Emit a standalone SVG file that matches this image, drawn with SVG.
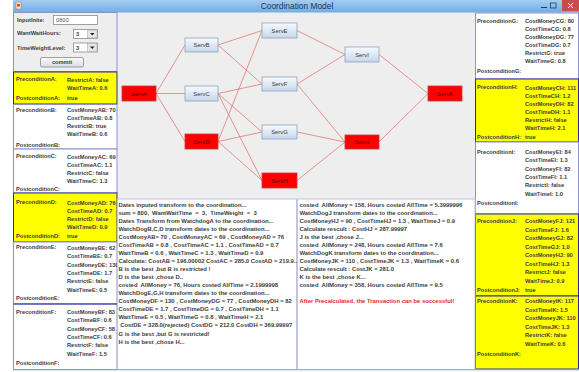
<svg xmlns="http://www.w3.org/2000/svg" width="579" height="372" viewBox="0 0 579 372">
<defs>
<linearGradient id="tb" x1="0" y1="0" x2="0" y2="1"><stop offset="0" stop-color="#a6cdf1"/><stop offset="1" stop-color="#6eaee6"/></linearGradient>
<linearGradient id="nb" x1="0" y1="0" x2="0" y2="1"><stop offset="0" stop-color="#f7fafd"/><stop offset="1" stop-color="#c6d7ea"/></linearGradient>
<linearGradient id="btn" x1="0" y1="0" x2="0" y2="1"><stop offset="0" stop-color="#fbfbfb"/><stop offset="1" stop-color="#d8dde3"/></linearGradient>
<style>
text{font-family:"Liberation Sans",Arial,sans-serif}
.l{font-size:5.7px;font-weight:bold;fill:#3c3c3c}
.t{font-size:5.9px;font-weight:bold;fill:#3c3c3c;white-space:pre}
.r{fill:#e42a2a}
.pw{fill:#ffffff;stroke:#8e8ed4;stroke-width:1}
.py{fill:#ffff00;stroke:#2a2aa8;stroke-width:1}
.nb rect{fill:url(#nb);stroke:#8ea3bb;stroke-width:0.8}
.nr rect{fill:#ff0000;stroke:#c83a3a;stroke-width:0.8}
.nb text{font-size:5.9px;fill:#3a3a3a;text-anchor:middle}
.nr text{font-size:5.9px;fill:#5a0000;text-anchor:middle}
#edges line{stroke:#e06868;stroke-width:0.7}
.box{fill:#ffffff;stroke:#8a8a8a;stroke-width:0.8}
</style>
</defs>
<rect x="0" y="0" width="579" height="372" fill="#ffffff"/>
<!-- window -->
<rect x="13" y="12" width="566" height="358" fill="#eeeeee"/>
<rect x="13" y="0" width="566" height="12.5" fill="url(#tb)"/>
<rect x="16" y="2" width="5" height="7" fill="#f0e6d2" stroke="#b07040" stroke-width="0.5"/>
<rect x="17.2" y="4" width="2.6" height="2.5" fill="#d04020"/>
<text x="297" y="9.3" text-anchor="middle" style="font-size:8.4px;fill:#1f3252">Coordination Model</text>
<line x1="541" y1="7.5" x2="547" y2="7.5" stroke="#2a3a55" stroke-width="1"/>
<rect x="550.5" y="3" width="5.5" height="5" fill="none" stroke="#2a3a55" stroke-width="0.8"/>
<rect x="562" y="0" width="17" height="11" fill="#c94c4c"/>
<line x1="568" y1="3" x2="573" y2="8" stroke="#ffffff" stroke-width="1"/>
<line x1="573" y1="3" x2="568" y2="8" stroke="#ffffff" stroke-width="1"/>

<!-- left controls -->
<g id="controls">
<rect x="13.5" y="12.5" width="103.5" height="59" fill="#eeeeee" stroke="#8e8ed4"/>
<text class="l" x="17" y="21.8">InputInite:</text>
<rect class="box" x="53.5" y="15.5" width="44" height="9"/>
<text x="56" y="22.2" style="font-size:5.7px;fill:#555">0800</text>
<text class="l" x="17" y="35.3">WantWaitHours:</text>
<rect class="box" x="73.5" y="29.5" width="24" height="9"/>
<text class="l" x="76" y="36.2">3</text>
<rect x="87.5" y="30" width="9.5" height="8" fill="#e6e6e6" stroke="#a0a0a0" stroke-width="0.5"/>
<path d="M90 33 L94.5 33 L92.25 35.5 Z" fill="#222"/>
<text class="l" x="17" y="49.5">TimeWeightLevel:</text>
<rect class="box" x="73.5" y="43" width="24" height="9"/>
<text class="l" x="76" y="49.7">3</text>
<rect x="87.5" y="43.5" width="9.5" height="8" fill="#e6e6e6" stroke="#a0a0a0" stroke-width="0.5"/>
<path d="M90 46.5 L94.5 46.5 L92.25 49 Z" fill="#222"/>
<rect x="40.5" y="57.5" width="43" height="9.5" rx="1.5" fill="url(#btn)" stroke="#8a8a8a" stroke-width="0.8"/>
<text class="l" x="62" y="64.3" text-anchor="middle">commit</text>
</g>

<!-- left panels -->
<g id="panelA">
<rect class="py" x="13.5" y="72" width="103.5" height="32"/>
<text class="l" x="16" y="81">PreconditionA:</text>
<text class="l" x="67" y="82">RestrictA: false</text>
<text class="l" x="67" y="89.5">WaitTimeA: 0.6</text>
<text class="l" x="16" y="100">PostconditionA:</text>
<text class="l" x="67" y="100">true</text>
</g>
<g id="panelB">
<rect class="pw" x="13.5" y="104.5" width="103.5" height="44.5"/>
<text class="l" x="16" y="111.5">PreconditionB:</text>
<text class="l" x="67" y="112">CostMoneyAB: 70</text>
<text class="l" x="67" y="120">CostTimeAB: 0.8</text>
<text class="l" x="67" y="128">RestrictB: true</text>
<text class="l" x="67" y="136">WaitTimeB: 0.6</text>
<text class="l" x="16" y="147">PostconditionB:</text>
</g>
<g id="panelC">
<rect class="pw" x="13.5" y="149" width="103.5" height="44"/>
<text class="l" x="16" y="158">PreconditionC:</text>
<text class="l" x="67" y="158.5">CostMoneyAC: 69</text>
<text class="l" x="67" y="166.5">CostTimeAC: 1.1</text>
<text class="l" x="67" y="174.5">RestrictC: false</text>
<text class="l" x="67" y="182.5">WaitTimeC: 1.3</text>
<text class="l" x="16" y="191">PostconditionC:</text>
</g>
<g id="panelD">
<rect class="py" x="13.5" y="193" width="103.5" height="49"/>
<text class="l" x="16" y="204">PreconditionD:</text>
<text class="l" x="67" y="205">CostMoneyAD: 76</text>
<text class="l" x="67" y="213">CostTimeAD: 0.7</text>
<text class="l" x="67" y="221">RestrictD: false</text>
<text class="l" x="67" y="229">WaitTimeD: 0.9</text>
<text class="l" x="16" y="237.5">PostconditionD:</text>
<text class="l" x="67" y="237.5">true</text>
</g>
<g id="panelE">
<rect class="pw" x="13.5" y="242" width="103.5" height="62"/>
<text class="l" x="16" y="249">PreconditionE:</text>
<text class="l" x="67" y="250">CostMoneyBE: 62</text>
<text class="l" x="67" y="258.3">CostTimeBE: 0.7</text>
<text class="l" x="67" y="266.6">CostMoneyDE: 130</text>
<text class="l" x="67" y="274.9">CostTimeDE: 1.7</text>
<text class="l" x="67" y="283.2">RestrictE: false</text>
<text class="l" x="67" y="291.5">WaitTimeE: 0.5</text>
<text class="l" x="16" y="300">PostconditionE:</text>
</g>
<g id="panelF">
<rect class="pw" x="13.5" y="304" width="103.5" height="65.5"/>
<line x1="13.5" y1="304" x2="117" y2="304" stroke="#2a2aa8"/>
<text class="l" x="16" y="313.5">PreconditionF:</text>
<text class="l" x="67" y="314">CostMoneyBF: 83</text>
<text class="l" x="67" y="322.3">CostTimeBF: 0.6</text>
<text class="l" x="67" y="330.6">CostMoneyCF: 58</text>
<text class="l" x="67" y="338.9">CostTimeCF: 0.6</text>
<text class="l" x="67" y="347.2">RestrictF: false</text>
<text class="l" x="67" y="355.5">WaitTimeF: 1.5</text>
<text class="l" x="16" y="364.5">PostconditionF:</text>
</g>

<!-- right panels -->
<g id="panelG">
<rect class="pw" x="475.5" y="13" width="103" height="66"/>
<text class="l" x="477" y="23">PreconditionG:</text>
<text class="l" x="525" y="23">CostMoneyCG: 80</text>
<text class="l" x="525" y="31">CostTimeCG: 0.8</text>
<text class="l" x="525" y="39">CostMoneyDG: 77</text>
<text class="l" x="525" y="47">CostTimeDG: 0.7</text>
<text class="l" x="525" y="55">RestrictG: true</text>
<text class="l" x="525" y="63">WaitTimeG: 0.8</text>
<text class="l" x="477" y="73">PostconditionG:</text>
</g>
<g id="panelH">
<rect class="py" x="475.5" y="79" width="103" height="63"/>
<text class="l" x="477" y="89">PreconditionH:</text>
<text class="l" x="525" y="89.5">CostMoneyCH: 111</text>
<text class="l" x="525" y="97.5">CostTimeCH: 1.2</text>
<text class="l" x="525" y="105.5">CostMoneyDH: 82</text>
<text class="l" x="525" y="113.5">CostTimeDH: 1.1</text>
<text class="l" x="525" y="121.5">RestrictH: false</text>
<text class="l" x="525" y="129.5">WaitTimeH: 2.1</text>
<text class="l" x="477" y="138.5">PostconditionH:</text>
<text class="l" x="525" y="138.5">true</text>
</g>
<g id="panelI">
<rect class="pw" x="475.5" y="142" width="103" height="72"/>
<text class="l" x="477" y="153.5">PreconditionI:</text>
<text class="l" x="525" y="154">CostMoneyEI: 84</text>
<text class="l" x="525" y="162.3">CostTimeEI: 1.3</text>
<text class="l" x="525" y="170.6">CostMoneyFI: 82</text>
<text class="l" x="525" y="178.9">CostTimeFI: 1.1</text>
<text class="l" x="525" y="187.2">RestrictI: false</text>
<text class="l" x="525" y="195.5">WaitTimeI: 1.0</text>
<text class="l" x="477" y="205">PostconditionI:</text>
</g>
<g id="panelJ">
<rect class="py" x="475.5" y="214" width="103" height="82"/>
<text class="l" x="477" y="222.5">PreconditionJ:</text>
<text class="l" x="525" y="223">CostMoneyFJ: 121</text>
<text class="l" x="525" y="231.5">CostTimeFJ: 1.6</text>
<text class="l" x="525" y="240">CostMoneyGJ: 82</text>
<text class="l" x="525" y="248.5">CostTimeGJ: 1.0</text>
<text class="l" x="525" y="257">CostMoneyHJ: 90</text>
<text class="l" x="525" y="265.5">CostTimeHJ: 1.3</text>
<text class="l" x="525" y="274">RestrictJ: false</text>
<text class="l" x="525" y="282.5">WaitTimeJ: 0.9</text>
<text class="l" x="477" y="292">PostconditionJ:</text>
<text class="l" x="525" y="292">true</text>
</g>
<g id="panelK">
<rect class="py" x="475.5" y="296" width="103" height="73"/>
<text class="l" x="477" y="302.5">PreconditionK:</text>
<text class="l" x="525" y="303">CostMoneyIK: 117</text>
<text class="l" x="525" y="311.5">CostTimeIK: 1.5</text>
<text class="l" x="525" y="320">CostMoneyJK: 110</text>
<text class="l" x="525" y="328.5">CostTimeJK: 1.3</text>
<text class="l" x="525" y="337">RestrictK: false</text>
<text class="l" x="525" y="345.5">WaitTimeK: 0.6</text>
<text class="l" x="477" y="356">PostconditionK:</text>
</g>

<!-- graph -->
<g id="edges">
<line x1="156" y1="93.5" x2="185" y2="45"/>
<line x1="156" y1="93.5" x2="185" y2="93.5"/>
<line x1="156" y1="93.5" x2="185" y2="141.5"/>
<line x1="218" y1="45" x2="262" y2="30.5"/>
<line x1="218" y1="45" x2="262" y2="84"/>
<line x1="218" y1="93.5" x2="262" y2="84"/>
<line x1="218" y1="93.5" x2="262" y2="132"/>
<line x1="218" y1="93.5" x2="262" y2="180.5"/>
<line x1="218" y1="141.5" x2="262" y2="30.5"/>
<line x1="218" y1="141.5" x2="262" y2="132"/>
<line x1="218" y1="141.5" x2="262" y2="180.5"/>
<line x1="297" y1="30.5" x2="345" y2="54.5"/>
<line x1="297" y1="84" x2="345" y2="54.5"/>
<line x1="297" y1="84" x2="345" y2="142"/>
<line x1="297" y1="132" x2="345" y2="142"/>
<line x1="297" y1="180.5" x2="345" y2="142"/>
<line x1="379" y1="54.5" x2="428" y2="93.5"/>
<line x1="379" y1="142" x2="428" y2="93.5"/>
</g>
<g id="ServA" class="nr"><rect x="122" y="86" width="34" height="15"/><text x="139" y="95.6">ServA</text></g>
<g id="ServB" class="nb"><rect x="185" y="38" width="33" height="14"/><text x="201.5" y="47.1">ServB</text></g>
<g id="ServC" class="nb"><rect x="185" y="86" width="33" height="15"/><text x="201.5" y="95.6">ServC</text></g>
<g id="ServD" class="nr"><rect x="185" y="134" width="33" height="15"/><text x="201.5" y="143.6">ServD</text></g>
<g id="ServE" class="nb"><rect x="262" y="23" width="35" height="15"/><text x="279.5" y="32.6">ServE</text></g>
<g id="ServF" class="nb"><rect x="262" y="77" width="35" height="14"/><text x="279.5" y="86.1">ServF</text></g>
<g id="ServG" class="nb"><rect x="262" y="125" width="35" height="14"/><text x="279.5" y="134.1">ServG</text></g>
<g id="ServH" class="nr"><rect x="262" y="173" width="35" height="15"/><text x="279.5" y="182.6">ServH</text></g>
<g id="ServI" class="nb"><rect x="345" y="47" width="34" height="15"/><text x="362" y="56.6">ServI</text></g>
<g id="ServJ" class="nr"><rect x="345" y="135" width="34" height="14"/><text x="362" y="144.1">ServJ</text></g>
<g id="ServK" class="nr"><rect x="428" y="86" width="34" height="15"/><text x="445" y="95.6">ServK</text></g>

<!-- log panels -->
<g id="logLeft">
<rect x="117.5" y="199" width="179" height="170.5" fill="#ffffff" stroke="#c4c4e0" stroke-width="1"/>
<text class="t" x="118.5" y="206.5">Dates inputed transform to the coordination...</text>
<text class="t" x="118.5" y="214.6">sum = 800,  WantWaitTime  =  3,  TimeWeight  =  3</text>
<text class="t" x="118.5" y="222.6">Dates Transform from WatchdogA to the coordination...</text>
<text class="t" x="118.5" y="230.7">WatchDogB,C,D transform dates to the coordination...</text>
<text class="t" x="118.5" y="238.7">CostMonyAB= 70 , CostMoneyAC = 69 , CostMoneyAD = 76</text>
<text class="t" x="118.5" y="246.8">CostTimeAB = 0.8 , CostTimeAC = 1.1 , CostTimeAD = 0.7</text>
<text class="t" x="118.5" y="254.9">WaitTimeB = 0.6 , WaitTimeC = 1.3 , WaitTimeD = 0.9</text>
<text class="t" x="118.5" y="262.9">Calculate: CostAB = 196.00002 CostAC = 285.0 CostAD = 219.9...</text>
<text class="t" x="118.5" y="271">B is the best ,but B is restricted !</text>
<text class="t" x="118.5" y="279">D is the best ,chose D..</text>
<text class="t" x="118.5" y="287.1">costed  AllMoney = 76, Hours costed AllTime = 2.1999998</text>
<text class="t" x="118.5" y="295.2">WatchDogE,G,H transform dates to the coordination...</text>
<text class="t" x="118.5" y="303.2">CostMoneyDF = 130 , CostMoneyDG = 77 , CostMoneyDH = 82</text>
<text class="t" x="118.5" y="311.3">CostTimeDE = 1.7 , CostTimeDG = 0.7 , CostTimeDH = 1.1</text>
<text class="t" x="118.5" y="319.3">WaitTimeE = 0.5 , WaitTimeG = 0.8 , WaitTimeH = 2.1</text>
<text class="t" x="118.5" y="327.4"> CostDE = 328.0(rejected) CostDG = 212.0 CostDH = 369.99997</text>
<text class="t" x="118.5" y="335.5">G is the best ,but G is restricted!</text>
<text class="t" x="118.5" y="343.5">H is the best ,chose H...</text>
</g>
<g id="logRight">
<rect x="297.5" y="199" width="177.5" height="170.5" fill="#ffffff" stroke="#c4c4e0" stroke-width="1"/>
<text class="t" x="299.5" y="206.5">costed  AllMoney = 158, Hours costed AllTime = 5.3999996</text>
<text class="t" x="299.5" y="214.6">WatchDogJ transform dates to the coordination...</text>
<text class="t" x="299.5" y="222.6">CostMoneyHJ = 90 , CostTimeHJ = 1.3 , WaitTimeJ = 0.9</text>
<text class="t" x="299.5" y="230.7">Calculate rescult : CostHJ = 287.99997</text>
<text class="t" x="299.5" y="238.7">J is the best ,chose J...</text>
<text class="t" x="299.5" y="246.8">costed  AllMoney = 248, Hours costed AllTime = 7.6</text>
<text class="t" x="299.5" y="254.9">WatchDogK transform dates to the coordination...</text>
<text class="t" x="299.5" y="262.9">CostMoneyJK = 110 , CostTimeJK = 1.3 , WaitTimeK = 0.6</text>
<text class="t" x="299.5" y="271">Calculate rescult : CostJK = 281.0</text>
<text class="t" x="299.5" y="279">K is the best ,chose K...</text>
<text class="t" x="299.5" y="287.1">costed  AllMoney = 358, Hours costed AllTime = 9.5</text>
<text class="t r" x="299.5" y="302.5">After Precalculated, the Transaction can be successful!</text>
</g>
<line x1="13" y1="369.8" x2="579" y2="369.8" stroke="#6aa8e0" stroke-width="0.8"/>
</svg>
